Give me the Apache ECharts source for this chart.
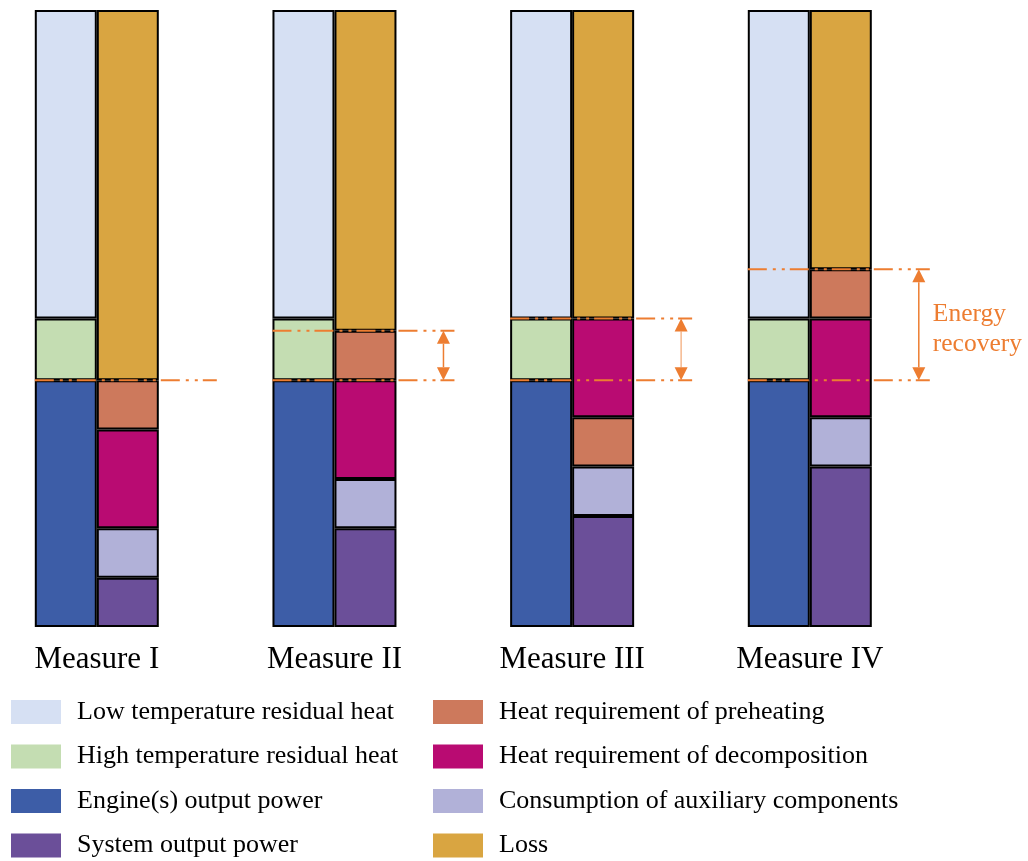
<!DOCTYPE html>
<html><head><meta charset="utf-8">
<script src="https://cdn.jsdelivr.net/npm/echarts@6/dist/echarts.min.js"></script>
<style>html,body{margin:0;padding:0;background:#fff}#main{width:1028px;height:861px}</style>
</head><body><div id="main"></div>
<script>
// ---- data (percent of total energy input) ----
const categories = ['Measure I', 'Measure II', 'Measure III', 'Measure IV'];
// input side (left bar)
const engineOutput = [40, 40, 40, 40];
const highTempHeat = [10, 10, 10, 10];
const lowTempHeat = [50, 50, 50, 50];
// usage side (right bar)
const systemOutput = [8, 16, 18, 26];
const auxConsumption = [8, 8, 8, 8];
const decomposition = [16, 16, 16, 16];
const preheating = [8, 8, 8, 8];
const preheatBelowDecomposition = [false, false, true, false];
const loss = [60, 52, 50, 42];
const recoveryLabel = 'Energy\nrecovery';

const N_LOW = 'Low temperature residual heat';
const N_HIGH = 'High temperature residual heat';
const N_ENG = 'Engine(s) output power';
const N_SYS = 'System output power';
const N_PRE = 'Heat requirement of preheating';
const N_DEC = 'Heat requirement of decomposition';
const N_AUX = 'Consumption of auxiliary components';
const N_LOSS = 'Loss';

const preheatLow = preheating.map((v, i) => preheatBelowDecomposition[i] ? v : '-');
const preheatHigh = preheating.map((v, i) => preheatBelowDecomposition[i] ? '-' : v);

const FONT = '"Liberation Serif","Times New Roman",serif';
const ORANGE = '#ED7D31';

function bar(name, stack, data, color) {
  return {
    name, type: 'bar', stack, data, barWidth: 62, barGap: '0%', clip: false,
    itemStyle: { color, borderColor: '#000', borderWidth: 2 },
    emphasis: { disabled: true }, animation: false
  };
}

const chart = echarts.init(document.getElementById('main'));
const legendBase = {
  orient: 'vertical', top: 699, padding: 0, height: 160,
  itemWidth: 50, itemHeight: 24, itemGap: 18.5, icon: 'rect', selectedMode: false,
  itemStyle: { borderWidth: 0 },
  textStyle: { fontFamily: FONT, fontSize: 26, color: '#000', lineHeight: 26, padding: [0, 0, 0, 11] }
};
chart.setOption({
  animation: false,
  grid: { left: 96.8, right: 218.2, top: 10, bottom: 234 },
  xAxis: {
    type: 'category', data: categories, boundaryGap: false,
    axisLine: { show: false }, axisTick: { show: false }, splitLine: { show: false },
    axisLabel: { fontFamily: FONT, fontSize: 31, color: '#000', margin: 17, lineHeight: 31 }
  },
  yAxis: { type: 'value', min: 0, max: 100, show: false, splitLine: { show: false } },
  legend: [
    Object.assign({}, legendBase, { data: [N_LOW, N_HIGH, N_ENG, N_SYS], left: 11 }),
    Object.assign({}, legendBase, { data: [N_PRE, N_DEC, N_AUX, N_LOSS], left: 433 })
  ],
  series: [
    bar(N_ENG, 'in', engineOutput, '#3D5DA7'),
    bar(N_HIGH, 'in', highTempHeat, '#C4DDB2'),
    bar(N_LOW, 'in', lowTempHeat, '#D6E0F3'),
    bar(N_SYS, 'out', systemOutput, '#6B4F99'),
    bar(N_AUX, 'out', auxConsumption, '#B1B1D8'),
    bar(N_PRE, 'out', preheatLow, '#CD795C'),
    bar(N_DEC, 'out', decomposition, '#B90B72'),
    bar(N_PRE, 'out', preheatHigh, '#CD795C'),
    bar(N_LOSS, 'out', loss, '#D9A541')
  ]
});

// ---- annotations (energy-recovery markers) computed through the chart's scales ----
const els = [];
const dash = [19, 6, 3, 6, 3, 5];
categories.forEach((c, i) => {
  const total = lowTempHeat[i] + highTempHeat[i] + engineOutput[i];
  const p0 = chart.convertToPixel({ gridIndex: 0 }, [i, engineOutput[i]]);
  const p1 = chart.convertToPixel({ gridIndex: 0 }, [i, total - loss[i]]);
  const cx = p0[0], yB = p0[1], yT = p1[1];
  const lineAt = y => ({ type: 'line', z: 100, silent: true,
    shape: { x1: cx - 62, y1: y, x2: cx + 120, y2: y },
    style: { stroke: ORANGE, lineWidth: 2, lineDash: dash } });
  els.push(lineAt(yB));
  if (Math.abs(yB - yT) > 1) {
    els.push(lineAt(yT));
    const ax = cx + 109, h = 13, w = 6.5;
    els.push({ type: 'line', z: 100, silent: true,
      shape: { x1: ax, y1: yT + h, x2: ax, y2: yB - h },
      style: { stroke: ORANGE, lineWidth: 1.5, opacity: i === 2 ? 0.55 : 1 } });
    els.push({ type: 'polygon', z: 100, silent: true,
      shape: { points: [[ax, yT], [ax - w, yT + h], [ax + w, yT + h]] }, style: { fill: ORANGE } });
    els.push({ type: 'polygon', z: 100, silent: true,
      shape: { points: [[ax, yB], [ax - w, yB - h], [ax + w, yB - h]] }, style: { fill: ORANGE } });
    if (i === categories.length - 1) {
      els.push({ type: 'text', z: 100, silent: true, x: cx + 123, y: (yT + yB) / 2 + 5,
        style: { text: recoveryLabel, fill: ORANGE, font: '25.5px ' + FONT, lineHeight: 30,
          align: 'left', verticalAlign: 'middle' } });
    }
  }
});
chart.setOption({ graphic: els });
</script>
</body></html>
